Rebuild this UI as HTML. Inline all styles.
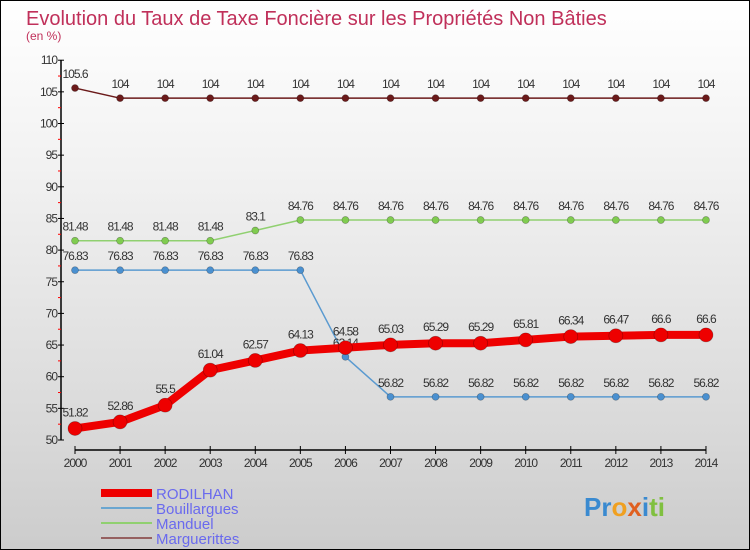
<!DOCTYPE html>
<html><head><meta charset="utf-8"><style>
body{margin:0}
#c{width:748px;height:548px;border:1px solid #000;background:linear-gradient(#fff,#f2f2f2 30%,#d8d8d8 80%,#ccc);position:relative;font-family:"Liberation Sans",sans-serif;overflow:hidden}
</style></head><body>
<div id="c">
<svg id="s" width="748" height="548" xmlns="http://www.w3.org/2000/svg" font-family="Liberation Sans, sans-serif"></svg>
</div>
<script>
const years=[2000,2001,2002,2003,2004,2005,2006,2007,2008,2009,2010,2011,2012,2013,2014];
const rodilhan=[51.82,52.86,55.5,61.04,62.57,64.13,64.58,65.03,65.29,65.29,65.81,66.34,66.47,66.6,66.6];
const bouill=[76.83,76.83,76.83,76.83,76.83,76.83,63.14,56.82,56.82,56.82,56.82,56.82,56.82,56.82,56.82];
const manduel=[81.48,81.48,81.48,81.48,83.1,84.76,84.76,84.76,84.76,84.76,84.76,84.76,84.76,84.76,84.76];
const marg=[105.6,104,104,104,104,104,104,104,104,104,104,104,104,104,104];
const yTicks=[50,55,60,65,70,75,80,85,90,95,100,105,110];
const s=document.getElementById('s');const NS='http://www.w3.org/2000/svg';
const X=i=>74+i*45.07, Y=v=>439-(v-50)*6.33;
function el(t,a,p){const e=document.createElementNS(NS,t);for(const k in a)e.setAttribute(k,a[k]);(p||s).appendChild(e);return e;}
function fmt(v){return String(v).replace('.','.');}
let t=el('text',{x:25,y:24,'font-size':20,fill:'#c0305a'});t.textContent='Evolution du Taux de Taxe Foncière sur les Propriétés Non Bâties';

t=el('text',{x:25,y:39,'font-size':12,fill:'#c0305a'});t.textContent='(en %)';

let ax=el('line',{x1:60,y1:Y(110),x2:60,y2:Y(50),stroke:'#000','stroke-width':1.5});

yTicks.forEach(v=>{el('line',{x1:57,x2:63,y1:Y(v),y2:Y(v),stroke:'#000'});
 if(v<110)el('line',{x1:57,x2:60,y1:Y(v+2.5),y2:Y(v+2.5),stroke:'red'});
 const tt=el('text',{x:56,y:Y(v)+4,'font-size':12,'text-anchor':'end',fill:'#333','letter-spacing':'-1'});tt.textContent=v;
 });
let xa=el('line',{x1:X(0),x2:X(14),y1:449,y2:449,stroke:'#000','stroke-width':1.5});

years.forEach((y,i)=>{el('line',{x1:X(i),x2:X(i),y1:445,y2:453,stroke:'#000'});
 const tt=el('text',{x:X(i),y:466,'font-size':12,'text-anchor':'middle',fill:'#333','letter-spacing':'-1'});tt.textContent=y;
 });
function series(d,col,w,r,name,dot){
 const g=el('g',{});
 el('polyline',{points:d.map((v,i)=>X(i)+','+Y(v)).join(' '),fill:'none',stroke:col,'stroke-width':w,'stroke-linejoin':'round'},g);
 d.forEach((v,i)=>{const c=el('circle',{cx:X(i),cy:Y(v),r:r,fill:dot,stroke:'rgba(0,0,0,0.3)','stroke-width':0.7},g);
  
  const tt=el('text',{x:X(i),y:Y(v)-10-(r>4?2:0),'font-size':12,'text-anchor':'middle',fill:'#333','letter-spacing':'-1'},g);tt.textContent=v;});
}
series(marg,'#6b1a1a',1.5,3.5,'marguerittes','#6b1a1a');
series(manduel,'#90d070',1.5,3.5,'manduel','#80cc50');
series(bouill,'#5a9ad0',1.5,3.5,'bouillargues','#4a90d0');
series(rodilhan,'#ee0000',8,7,'rodilhan','#ee0000');
const leg=[['RODILHAN','#ee0000',8],['Bouillargues','#6aa6d0',2],['Manduel','#90d070',2],['Marguerittes','#956060',2]];
leg.forEach((l,i)=>{const g=el('g',{});
 const yy=492+i*15;el('line',{x1:100,x2:151,y1:yy,y2:yy,stroke:l[1],'stroke-width':l[2]},g);
 const tt=el('text',{x:155,y:yy+6,'font-size':15,fill:'#6a6aee'},g);tt.textContent=l[0];});
const lg=el('text',{x:583,y:515,'font-size':26,'font-weight':'bold',fill:'#3a8ad0'});

lg.innerHTML='Pr<tspan fill="#f0a020">o</tspan><tspan fill="#e06020">x</tspan><tspan fill="#3a8ad0">i</tspan><tspan fill="#80c040">ti</tspan>';
</script>
</body></html>
